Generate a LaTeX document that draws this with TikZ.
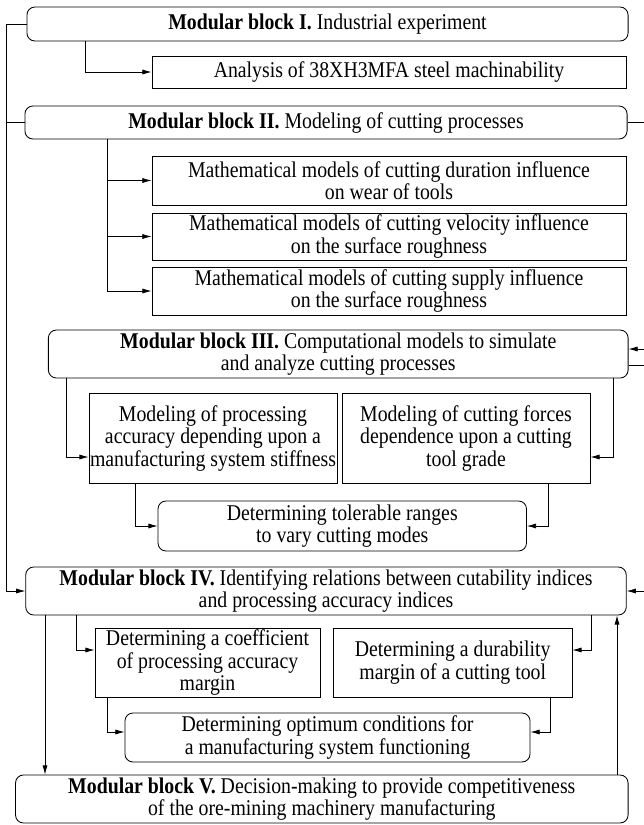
\documentclass[tikz,border=0pt]{standalone}
\usepackage{fontspec}
\setmainfont{Liberation Serif}[FakeStretch=0.88]
\usepackage{tikz}
\usetikzlibrary{arrows,arrows.meta}
\usetikzlibrary{positioning}

\begin{document}
\begin{tikzpicture}[x=0.025cm,y=-0.025cm,>={Latex[length=6.5pt,width=3.6pt]},line width=0.5pt,
    block node/.style={rectangle,rounded corners=0.2cm,draw,line width=0.6pt,inner sep=0pt,align=center,font=\fontsize{16}{16}\selectfont},
    plain node/.style={rectangle,draw,line width=0.6pt,inner sep=0pt,align=center,font=\fontsize{16}{16}\selectfont}]
  \useasboundingbox (0,0) rectangle (644,825);
  % branch positions
  \coordinate (l) at (6,0);
  \coordinate (r) at (644,0);
  \coordinate (c1) at (85,0);
  \coordinate (c2) at (107.5,0);
  \coordinate (c3) at (66.5,0);
  \coordinate (c4) at (613,0);
  \coordinate (c5) at (135.5,0);
  \coordinate (c6) at (548,0);
  \coordinate (c7) at (76,0);
  \coordinate (c8) at (591,0);
  \coordinate (c9) at (107,0);
  \coordinate (c10) at (550,0);
  \coordinate (c11) at (45,0);
  \coordinate (c12) at (617,0);
  \coordinate (a3) at (0,457);
  \coordinate (a4) at (0,650);
  \coordinate (a5) at (0,732);
  \coordinate (r3a) at (644,349);
  \coordinate (r3b) at (644,365);

  \node[block node,minimum width=15.025cm,minimum height=0.85cm] (bI) at (327.5,24) {\textbf{Modular block I.} Industrial experiment};
  \node[plain node,minimum width=11.85cm,minimum height=0.8cm] (an) at (389,72) {Analysis of 38XH3MFA steel machinability};
  \node[block node,minimum width=15.05cm,minimum height=0.825cm] (bII) at (326,122.5) {\textbf{Modular block II.} Modeling of cutting processes};
  \node[plain node,minimum width=11.85cm,minimum height=1.225cm] (m1) at (389,180.5) {Mathematical models of cutting duration influence\\on wear of tools};
  \node[plain node,minimum width=11.85cm,minimum height=1.175cm] (m2) at (389,236.5) {Mathematical models of cutting velocity influence\\on the surface roughness};
  \node[plain node,minimum width=11.85cm,minimum height=1.2cm] (m3) at (389,291) {Mathematical models of cutting supply influence\\on the surface roughness};

  \node[block node,minimum width=14.49cm,minimum height=1.2cm] (bIII) at (338.25,354) {\textbf{Modular block III.} Computational models to simulate\\and analyze cutting processes};
  \node[plain node,minimum width=6.2cm,minimum height=2.25cm] (p1) at (213,438) {Modeling of processing\\accuracy depending upon a\\manufacturing system stiffness};
  \node[plain node,minimum width=6.2cm,minimum height=2.25cm] (p2) at (466,438) {Modeling of cutting forces\\dependence upon a cutting\\tool grade};
  \node[block node,minimum width=9.21cm,minimum height=1.25cm] (t) at (342.25,526) {Determining tolerable ranges\\to vary cutting modes};

  \node[block node,minimum width=15.01cm,minimum height=1.2cm] (bIV) at (326,591) {\textbf{Modular block IV.} Identifying relations between cutability indices\\and processing accuracy indices};
  \node[plain node,minimum width=5.625cm,minimum height=1.725cm] (q1) at (207.5,662.5) {Determining a coefficient\\of processing accuracy\\margin};
  \node[plain node,minimum width=5.96cm,minimum height=1.725cm] (q2) at (452.75,662.5) {Determining a durability\\margin of a cutting tool};
  \node[block node,minimum width=10.125cm,minimum height=1.225cm] (rr) at (327.5,737.5) {Determining optimum conditions for\\a manufacturing system functioning};
  \node[block node,minimum width=15.31cm,minimum height=1.2cm] (bV) at (321.8,799) {\textbf{Modular block V.} Decision-making to provide competitiveness\\of the ore-mining machinery manufacturing};

  \draw[->] (bI.west) -| (l |- bIV.west) -- (bIV.west);
  \draw (bII.west) -- (bII.west -| l);
  \draw (bII.east) -- (bII.east -| r);
  \draw[->] (bI.south -| c1) |- (an.west);
  \draw[->] (bII.south -| c2) |- (m1.west);
  \draw[->] (bII.south -| c2) |- (m2.west);
  \draw[->] (bII.south -| c2) |- (m3.west);
  \draw[->] (r3a) -- (r3a -| bIII.east);
  \draw (r3b -| bIII.east) -- (r3b);
  \draw[->] (bIII.south -| c3) |- (p1.west |- a3);
  \draw[->] (bIII.south -| c4) |- (p2.east |- a3);
  \draw[->] (p1.south -| c5) |- (t.west);
  \draw[->] (p2.south -| c6) |- (t.east);
  \draw[->] (bIV.east -| r) -- (bIV.east);
  \draw[->] (bIV.south -| c7) |- (q1.west |- a4);
  \draw[->] (bIV.south -| c8) |- (q2.east |- a4);
  \draw[->] (q1.south -| c9) |- (rr.west |- a5);
  \draw[->] (q2.south -| c10) |- (rr.east |- a5);
  \draw[->] (bIV.south -| c11) -- (bV.north -| c11);
  \draw[->] (bV.north -| c12) -- (bIV.south -| c12);
\end{tikzpicture}
\end{document}
